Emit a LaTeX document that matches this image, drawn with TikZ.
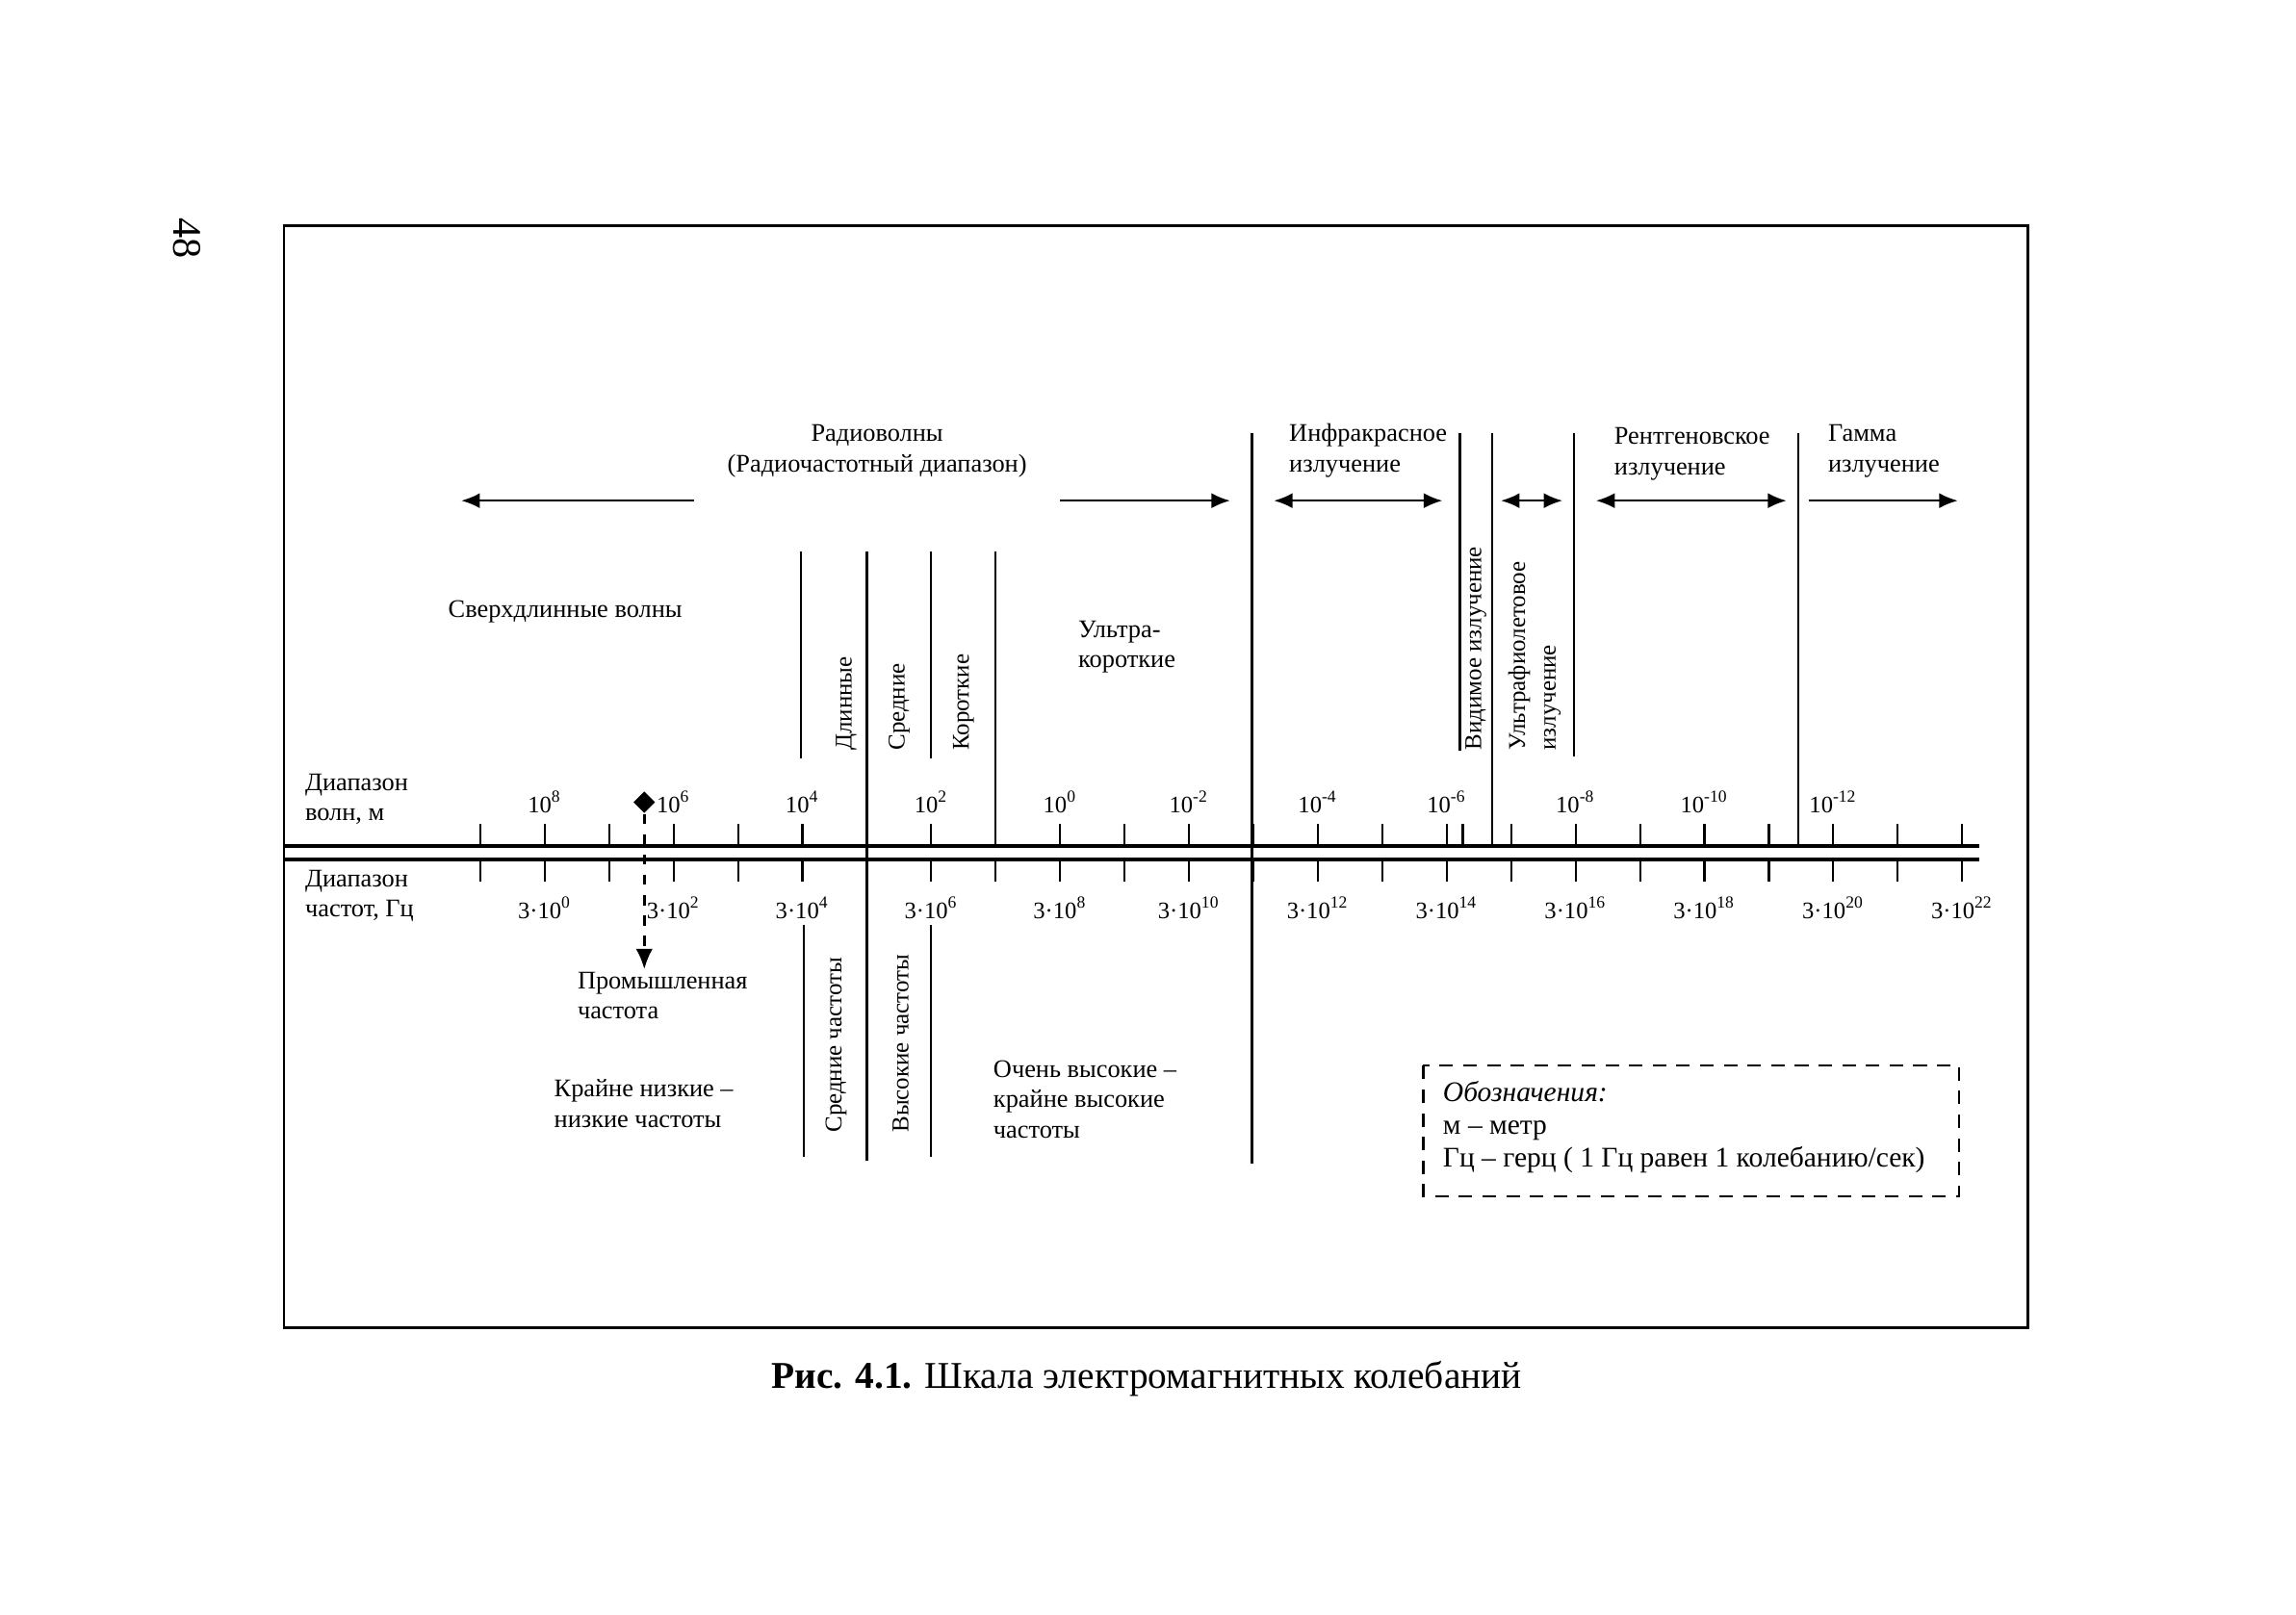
\documentclass[tikz,border=0pt]{standalone}
\usepackage{fontspec}
\setmainfont{Liberation Serif}
\usetikzlibrary{arrows.meta,shapes.geometric}

\tikzset{
  lbl/.style={font=\fontsize{7.5}{9}\selectfont, inner sep=0pt, align=left},
  vlbl/.style={lbl, font=\fontsize{7.1}{9}\selectfont, rotate=90, anchor=west},
  ticklbl/.style={font=\fontsize{7}{8}\selectfont, inner sep=0pt},
  tk/.style={line width=0.6pt},
  sep/.style={line width=0.6pt},
  rng/.style={line width=0.6pt, -{Latex[length=5.5pt,width=4.5pt]}},
  rngboth/.style={line width=0.6pt, {Latex[length=5.5pt,width=4.5pt]}-{Latex[length=5.5pt,width=4.5pt]}}
}

\begin{document}
\begin{tikzpicture}[x=0.1521mm, y=-0.1521mm]
  \useasboundingbox (0,0) rectangle (1568,1103);
  \node[font=\fontsize{12}{12}\selectfont, rotate=-90] (page) at (128,163) {48};
  \draw[line width=0.8pt] (194,154) rectangle (1385,907);

  % --- scale ---
  \draw[line width=1pt] (194,578) -- (1352,578);
  \draw[line width=1pt] (194,587) -- (1352,587);
  \foreach \i in {0,...,23} {
    \draw[tk] (328+44*\i,563) -- (328+44*\i,578);
    \draw[tk] (328+44*\i,587) -- (328+44*\i,602);
  }
  \draw[tk] (999,563) -- (999,578);
  \foreach \e [count=\k from 0] in {8,6,4,2,0,-2,-4,-6,-8,-10,-12}
    \node[ticklbl] (w\k) at (372+88*\k,548) {10\textsuperscript{\e}};
  \foreach \e [count=\k from 0] in {0,2,...,22}
    \node[ticklbl] (f\k) at (372+88*\k,620) {3·10\textsuperscript{\e}};
  \node[lbl, anchor=west] (wavelab) at (208,546) {Диапазон\\волн, м};
  \node[lbl, anchor=west] (freqlab) at (208,612) {Диапазон\\частот, Гц};

  % --- band borders ---
  \draw[sep] (547,377) -- (547,518);
  \draw[sep] (592,377) -- (592,793);
  \draw[sep] (636,377) -- (636,518);
  \draw[sep] (680,377) -- (680,578);
  \draw[sep] (549,632) -- (549,790);
  \draw[sep] (636,632) -- (636,790);
  \draw[sep] (855,296) -- (855,795);
  \draw[sep] (997,296) -- (997,513);
  \draw[sep] (1019,296) -- (1019,578);
  \draw[sep] (1075,296) -- (1075,517);
  \draw[sep] (1228,296) -- (1228,578);

  % --- radiation types ---
  \node[lbl, align=center] (radio) at (599,308) {Радиоволны\\(Радиочастотный диапазон)};
  \node[lbl, anchor=west] (ir) at (880,308) {Инфракрасное\\излучение};
  \node[lbl, anchor=west] (xray) at (1102,310) {Рентгеновское\\излучение};
  \node[lbl, anchor=west] (gamma) at (1248,308) {Гамма\\излучение};
  \node[vlbl] (vis) at (1008,513) {Видимое излучение};
  \node[vlbl] (uv) at (1048,513) {Ультрафиолетовое\\излучение};
  \coordinate (radioL1) at (474,342); \coordinate (radioL2) at (315,342);
  \coordinate (radioR1) at (724,342); \coordinate (radioR2) at (840,342);
  \coordinate (irL) at (870,342);     \coordinate (irR) at (985,342);
  \coordinate (uvL) at (1025,342);    \coordinate (uvR) at (1067,342);
  \coordinate (xL) at (1090,342);     \coordinate (xR) at (1220,342);
  \coordinate (gL) at (1235,342);     \coordinate (gR) at (1337,342);
  \draw[rng] (radioL1) -- (radioL2);
  \draw[rng] (radioR1) -- (radioR2);
  \draw[rngboth] (irL) -- (irR);
  \draw[rngboth] (uvL) -- (uvR);
  \draw[rngboth] (xL) -- (xR);
  \draw[rng] (gL) -- (gR);

  % --- radio bands ---
  \node[lbl] (slw) at (386,418) {Сверхдлинные волны};
  \node[vlbl] (lw) at (578,513) {Длинные};
  \node[vlbl] (mw) at (614,513) {Средние};
  \node[vlbl] (sw) at (658,513) {Короткие};
  \node[lbl, anchor=west] (usw) at (736,442) {Ультра-\\короткие};

  % --- frequency bands ---
  \node[fill, diamond, inner sep=0pt, minimum size=6.5pt] (ind) at (440,548) {};
  \coordinate (indend) at (440,662);
  \draw[line width=0.7pt, dashed, -{Latex[length=6pt,width=5pt]}] (ind.south) -- (indend);
  \node[lbl, anchor=west] (indlab) at (394,680) {Промышленная\\частота};
  \node[lbl, anchor=west] (elf) at (378,754) {Крайне низкие –\\низкие частоты};
  \node[vlbl] (mf) at (571,774) {Средние частоты};
  \node[vlbl] (hf) at (615,774) {Высокие частоты};
  \node[lbl, anchor=west] (vhf) at (678,751) {Очень высокие –\\крайне высокие\\частоты};

  % --- legend ---
  \draw[line width=0.6pt, dash pattern=on 4pt off 3pt] (972,728) rectangle (1338,817);
  \node[font=\fontsize{8.4}{9.6}\selectfont, align=left, inner sep=0pt, anchor=west] (legend) at (985,770)
    {\textit{Обозначения:}\\м – метр\\Гц – герц ( 1 Гц равен 1 колебанию/сек)};

  \node[font=\fontsize{11.2}{12}\selectfont] (caption) at (783,942)
    {\textbf{Рис. 4.1.} Шкала электромагнитных колебаний};
\end{tikzpicture}
\end{document}
